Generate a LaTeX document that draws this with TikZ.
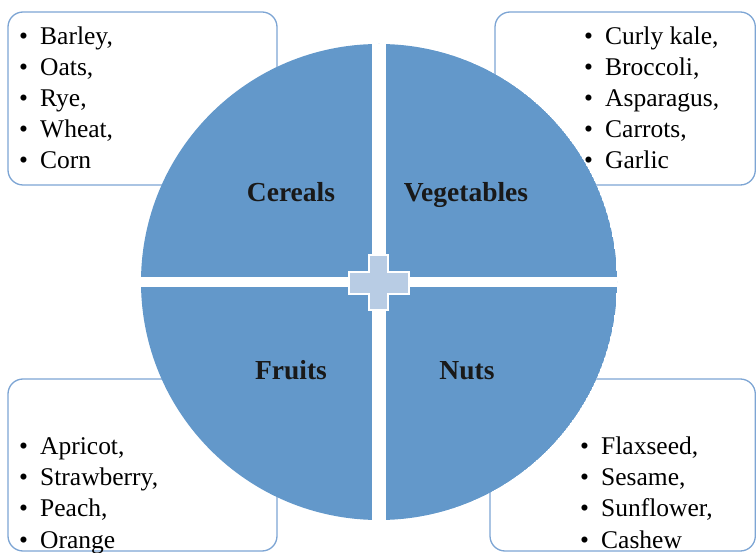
\documentclass[tikz,border=0pt]{standalone}
\usepackage{fontspec}
\setmainfont{Liberation Serif}
\definecolor{pie}{RGB}{99,152,202}
\definecolor{plusfill}{RGB}{184,204,228}
\definecolor{boxline}{RGB}{125,165,212}
\newcommand{\itemfont}{\fontsize{25.5}{31}\selectfont}
\newcommand{\capfont}{\fontsize{27.5}{33}\selectfont\bfseries}
\newcommand{\bul}{\makebox[21pt][l]{\textbullet}}
\begin{document}
\begin{tikzpicture}[x=1pt,y=-1pt,
  listbox/.style={draw=boxline, line width=1.3pt, rounded corners=15pt, fill=white},
  item/.style={anchor=base west, inner sep=0pt, font=\itemfont, text=black},
  quad/.style={anchor=base, inner sep=0pt, font=\capfont, text=black!90}]
\useasboundingbox (0,0) rectangle (756,553);
% list boxes
\draw[listbox] (8,12) rectangle (277,185);
\draw[listbox] (495,12) rectangle (755.3,185);
\draw[listbox] (8,379) rectangle (277,551);
\draw[listbox] (490,379) rectangle (755.3,551);
% circle quadrants
\begin{scope}
  \clip (379,282) circle (238);
  \fill[pie] (379,282) circle (238);
  \fill[white] (372,30) rectangle (386,530);
  \fill[white] (130,277) rectangle (630,287);
\end{scope}
% plus
\draw[white, line width=2pt, fill=plusfill]
  (369,255) -- (388,255) -- (388,272) -- (409,272) -- (409,294) -- (388,294)
  -- (388,310) -- (369,310) -- (369,294) -- (349,294) -- (349,272) -- (369,272) -- cycle;
% quadrant labels
\node[quad] (cereals) at (291,202) {Cereals};
\node[quad] (vegetables) at (466,202) {Vegetables};
\node[quad] (fruits) at (291,380) {Fruits};
\node[quad] (nuts) at (467,380) {Nuts};
% top-left list
\node[item] (c1) at (19,45) {\bul Barley,};
\node[item] (c2) at (19,76) {\bul Oats,};
\node[item] (c3) at (19,107) {\bul Rye,};
\node[item] (c4) at (19,138) {\bul Wheat,};
\node[item] (c5) at (19,169) {\bul Corn};
% top-right list
\node[item] (v1) at (584,45) {\bul Curly kale,};
\node[item] (v2) at (584,76) {\bul Broccoli,};
\node[item] (v3) at (584,107) {\bul Asparagus,};
\node[item] (v4) at (584,138) {\bul Carrots,};
\node[item] (v5) at (584,169) {\bul Garlic};
% bottom-left list
\node[item] (f1) at (19,455) {\bul Apricot,};
\node[item] (f2) at (19,486) {\bul Strawberry,};
\node[item] (f3) at (19,517) {\bul Peach,};
\node[item] (f4) at (19,548) {\bul Orange};
% bottom-right list
\node[item] (n1) at (580,455) {\bul Flaxseed,};
\node[item] (n2) at (580,486) {\bul Sesame,};
\node[item] (n3) at (580,517) {\bul Sunflower,};
\node[item] (n4) at (580,548) {\bul Cashew};
\end{tikzpicture}
\end{document}
